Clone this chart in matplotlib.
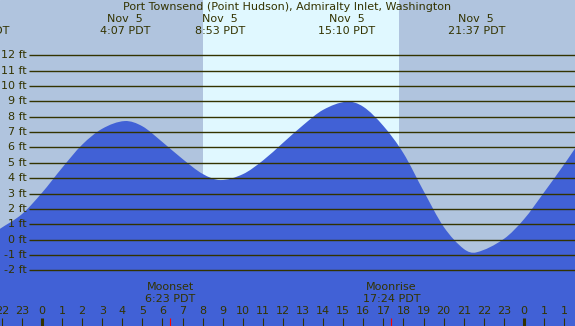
# -*- coding: utf-8 -*-
# Tide chart: Port Townsend (Point Hudson), Nov 5

import numpy as np
import matplotlib
matplotlib.use('Agg')
import matplotlib.pyplot as plt
from matplotlib.path import Path
from matplotlib.patches import PathPatch

plt.rcParams['font.family'] = 'DejaVu Sans'

# --- Data (hours since midnight Nov 5, PDT; heights in ft) ---
tide_hours = [-2.1, -1, 0, 1, 2, 3, 4.12, 5, 6, 7, 8, 8.88, 10, 11, 12, 13, 14,
              15.17, 16, 17, 18, 19, 20, 21, 21.62, 23, 24, 25, 26, 26.6]
tide_heights = [0.70, 1.66, 3.05, 4.67, 6.18, 7.22, 7.72, 7.38, 6.35, 5.25, 4.28,
                3.88, 4.26, 5.15, 6.30, 7.45, 8.45, 8.98, 8.65, 7.40, 5.62, 3.17,
                0.84, -0.60, -0.83, 0.05, 1.33, 3.08, 4.90, 6.05]

event_hours = [-3.05, 4.12, 8.88, 15.17, 21.62]
event_days = ['Nov  4', 'Nov  5', 'Nov  5', 'Nov  5', 'Nov  5']
event_times = ['20:57 PDT', '4:07 PDT', '8:53 PDT', '15:10 PDT', '21:37 PDT']

sunrise, sunset = 8.02, 17.78
moon_hours = [6.383, 17.4]
moon_names = ['Moonset', 'Moonrise']
moon_times = ['6:23 PDT', '17:24 PDT']

ft_levels = list(range(-2, 13))
hour_ticks = list(range(-2, 27))
hour_labels = ['22', '23'] + [str(h) for h in range(24)] + ['0', '1', '1']

TITLE = 'Port Townsend (Point Hudson), Admiralty Inlet, Washington'

# --- Colours ---
NIGHT = '#b0c4de'
DAY = '#e0f8ff'
WATER = '#4161d6'
INK = '#333300'

W, H = 575, 326
XMIN, XMAX = -2.09, 26.54
YMIN, YMAX = -5.62, 15.6

fig = plt.figure(figsize=(W / 100, H / 100), dpi=100)
ax = fig.add_axes([0, 0, 1, 1])
ax.set_xlim(XMIN, XMAX)
ax.set_ylim(YMIN, YMAX)
ax.axis('off')
ax.add_patch(plt.Rectangle((0, 0), 1, 1, transform=ax.transAxes, color=NIGHT, zorder=0))
ax.axvspan(sunrise, sunset, color=DAY, zorder=1, lw=0)

# --- Tide curve as a smooth Bezier path (cubic Hermite through readings) ---
t = np.array(tide_hours)
y = np.array(tide_heights)
m = np.empty_like(y)
m[1:-1] = (y[2:] - y[:-2]) / (t[2:] - t[:-2])
m[0] = (y[1] - y[0]) / (t[1] - t[0])
m[-1] = (y[-1] - y[-2]) / (t[-1] - t[-2])
verts = [(t[0], YMIN), (t[0], y[0])]
codes = [Path.MOVETO, Path.LINETO]
for i in range(len(t) - 1):
    dt = t[i + 1] - t[i]
    verts += [(t[i] + dt / 3, y[i] + m[i] * dt / 3),
              (t[i + 1] - dt / 3, y[i + 1] - m[i + 1] * dt / 3),
              (t[i + 1], y[i + 1])]
    codes += [Path.CURVE4] * 3
verts += [(t[-1], YMIN), (t[0], YMIN)]
codes += [Path.LINETO, Path.CLOSEPOLY]
ax.add_patch(PathPatch(Path(verts, codes), facecolor=WATER, edgecolor='none', zorder=2))

# --- Height lines and labels ---
ytr = ax.get_yaxis_transform()
ax.hlines(ft_levels, 29 / W, 1, transform=ytr, color=INK, lw=1.0, zorder=3)
for lv in ft_levels:
    ax.text(27 / W, lv, f'{lv} ft', transform=ytr, ha='right', va='center',
            fontsize=8, color=INK, zorder=4)

# --- Title and high/low annotations ---
ax.text(0.5, 1 - 7 / H, TITLE, transform=ax.transAxes, ha='center', va='center',
        fontsize=8, color=INK, zorder=4)
xtr = ax.get_xaxis_transform()
for h, d, tm in zip(event_hours, event_days, event_times):
    ax.text(h, 1 - 19.5 / H, d, transform=xtr, ha='center', va='center',
            fontsize=8, color=INK, zorder=4)
    ax.text(h, 1 - 31.5 / H, tm, transform=xtr, ha='center', va='center',
            fontsize=8, color=INK, zorder=4)

# --- Hour axis ---
for h, lab in zip(hour_ticks, hour_labels):
    thick = (h % 24 == 0)
    ax.vlines(h, 0, 8 / H, transform=xtr, color=INK, lw=2.2 if thick else 0.8, zorder=4)
    ax.text(h, 1 - 311.5 / H, lab, transform=xtr, ha='center', va='center',
            fontsize=8, color=INK, zorder=4)

# --- Moon events ---
for h, name, tm in zip(moon_hours, moon_names, moon_times):
    ax.vlines(h, 0, 8.5 / H, transform=xtr, color='red', lw=0.8, zorder=5)
    ax.text(h, 1 - 287.5 / H, name, transform=xtr, ha='center', va='center',
            fontsize=8, color=INK, zorder=4)
    ax.text(h, 1 - 299 / H, tm, transform=xtr, ha='center', va='center',
            fontsize=8, color=INK, zorder=4)

fig.savefig('out.png', dpi=100)
